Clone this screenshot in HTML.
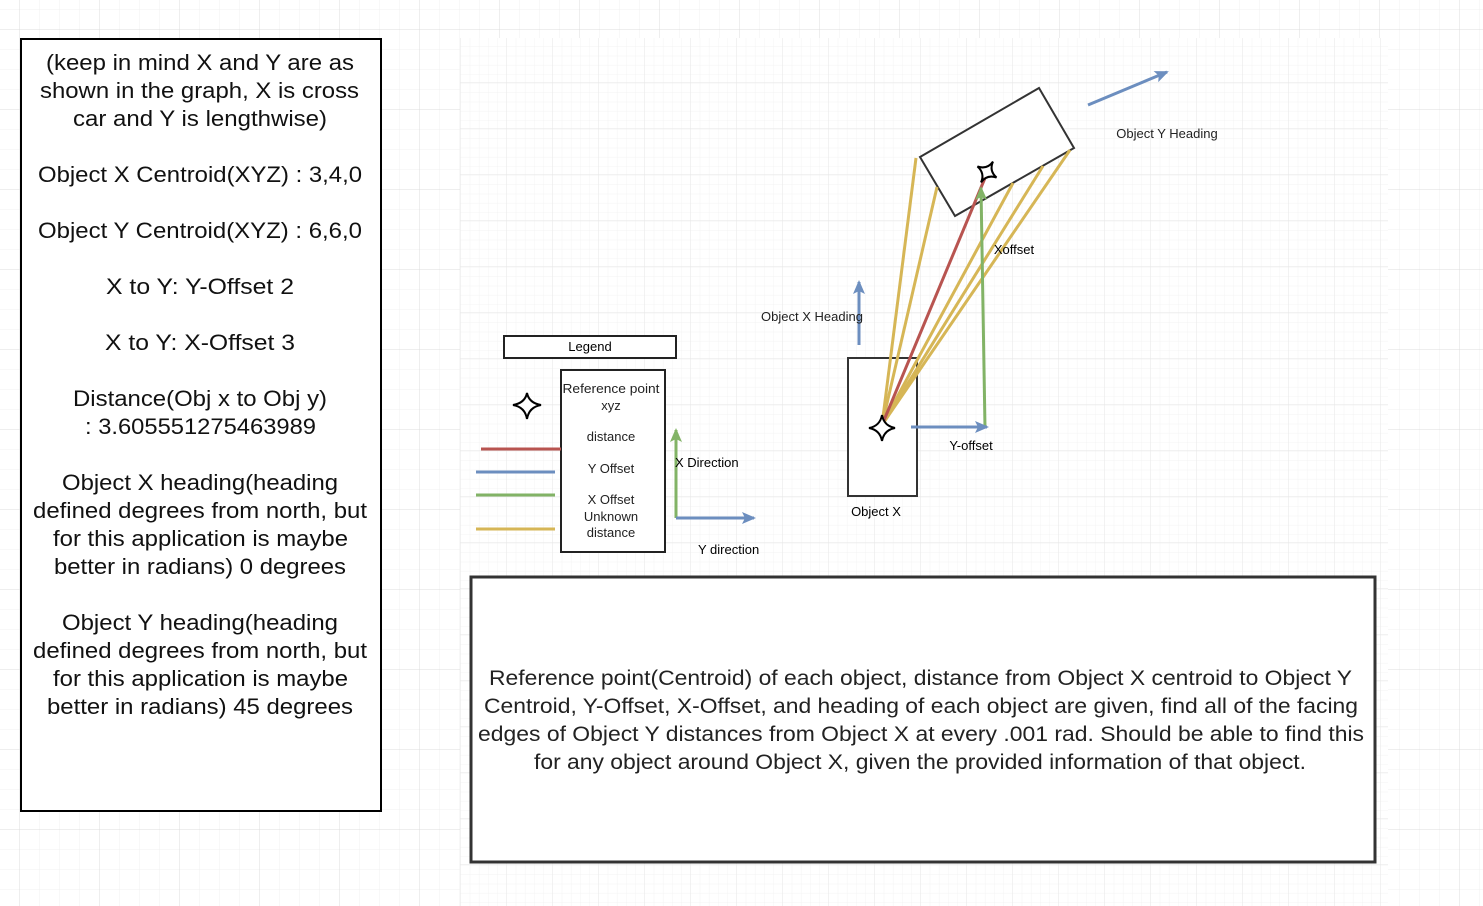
<!DOCTYPE html>
<html><head><meta charset="utf-8"><style>
html,body{margin:0;padding:0;background:#fff;}
svg{display:block;}
text{font-family:"Liberation Sans",Arial,sans-serif;}
</style></head><body>
<svg width="1483" height="906" viewBox="0 0 1483 906" xmlns="http://www.w3.org/2000/svg">
<defs>
<pattern id="og" width="20" height="20" patternUnits="userSpaceOnUse" x="0" y="10">
<path d="M20 0V20M0 20H20" stroke="#f0f0f0" stroke-width="1" fill="none"/></pattern>
<pattern id="oG" width="80" height="80" patternUnits="userSpaceOnUse" x="20" y="30">
<path d="M80 0V80M0 80H80" stroke="#dcdcdc" stroke-width="1" fill="none"/></pattern>
<pattern id="ig" width="9.2" height="9.2" patternUnits="userSpaceOnUse" x="1" y="1">
<path d="M9.2 0V9.2M0 9.2H9.2" stroke="#f3f3f3" stroke-width="1" fill="none"/></pattern>
<pattern id="iG" width="46" height="46" patternUnits="userSpaceOnUse" x="1" y="37">
<path d="M46 0V46M0 46H46" stroke="#e6e6e6" stroke-width="1" fill="none"/></pattern>
<marker id="ab2" markerWidth="14" markerHeight="12" refX="12" refY="6" orient="auto" markerUnits="userSpaceOnUse"><path d="M0,0L14,6L0,12L3,6Z" fill="#6c8ebf"/></marker>
<marker id="ag" markerWidth="14" markerHeight="12" refX="12" refY="6" orient="auto" markerUnits="userSpaceOnUse"><path d="M0,0L14,6L0,12L3,6Z" fill="#82b366"/></marker>
</defs>
<rect width="1483" height="906" fill="url(#og)"/>
<rect width="1483" height="906" fill="url(#oG)"/>
<rect x="460" y="38" width="928" height="868" fill="#fff"/>
<rect x="460" y="38" width="928" height="868" fill="url(#ig)"/>
<rect x="460" y="38" width="928" height="868" fill="url(#iG)"/>

<!-- left box -->
<rect x="21" y="39" width="360" height="772" fill="#fff" stroke="#000" stroke-width="2"/>
<g font-size="22" fill="#111" lengthAdjust="spacingAndGlyphs">
<text x="46" y="70" textLength="308" lengthAdjust="spacingAndGlyphs">(keep in mind X and Y are as</text>
<text x="40" y="98" textLength="319" lengthAdjust="spacingAndGlyphs">shown in the graph, X is cross</text>
<text x="73" y="126" textLength="254" lengthAdjust="spacingAndGlyphs">car and Y is lengthwise)</text>
<text x="38" y="182" textLength="324" lengthAdjust="spacingAndGlyphs">Object X Centroid(XYZ) : 3,4,0</text>
<text x="38" y="238" textLength="324" lengthAdjust="spacingAndGlyphs">Object Y Centroid(XYZ) : 6,6,0</text>
<text x="106" y="294" textLength="188" lengthAdjust="spacingAndGlyphs">X to Y: Y-Offset  2</text>
<text x="105" y="350" textLength="190" lengthAdjust="spacingAndGlyphs">X to Y: X-Offset  3</text>
<text x="73" y="406" textLength="254" lengthAdjust="spacingAndGlyphs">Distance(Obj x to Obj y)</text>
<text x="85" y="434" textLength="231" lengthAdjust="spacingAndGlyphs">: 3.605551275463989</text>
<text x="62" y="490" textLength="276" lengthAdjust="spacingAndGlyphs">Object X heading(heading</text>
<text x="33" y="518" textLength="334" lengthAdjust="spacingAndGlyphs">defined degrees from north, but</text>
<text x="53" y="546" textLength="295" lengthAdjust="spacingAndGlyphs">for this application is maybe</text>
<text x="54" y="574" textLength="292" lengthAdjust="spacingAndGlyphs">better in radians) 0 degrees</text>
<text x="62" y="630" textLength="276" lengthAdjust="spacingAndGlyphs">Object Y heading(heading</text>
<text x="33" y="658" textLength="334" lengthAdjust="spacingAndGlyphs">defined degrees from north, but</text>
<text x="53" y="686" textLength="295" lengthAdjust="spacingAndGlyphs">for this application is maybe</text>
<text x="47" y="714" textLength="306" lengthAdjust="spacingAndGlyphs">better in radians) 45 degrees</text>
</g>

<!-- legend -->
<rect x="504" y="336" width="172" height="22" fill="#fff" stroke="#222" stroke-width="2"/>
<text x="590" y="351" font-size="13" text-anchor="middle">Legend</text>
<rect x="561" y="370" width="104" height="182" fill="#fff" stroke="#222" stroke-width="2"/>
<g font-size="13" text-anchor="middle" fill="#222">
<text x="611" y="393" textLength="97" lengthAdjust="spacingAndGlyphs">Reference point</text>
<text x="611" y="410">xyz</text>
<text x="611" y="441">distance</text>
<text x="611" y="473">Y Offset</text>
<text x="611" y="504">X Offset</text>
<text x="611" y="521">Unknown</text>
<text x="611" y="537">distance</text>
</g>
<path d="M527,393 Q529,403 541,405 Q529,407 527,419 Q525,407 513,405 Q525,403 527,393Z" fill="#fff" stroke="#000" stroke-width="2"/>
<line x1="481" y1="449" x2="561" y2="449" stroke="#b85450" stroke-width="3"/>
<line x1="476" y1="472" x2="555" y2="472" stroke="#6c8ebf" stroke-width="3"/>
<line x1="476" y1="495" x2="555" y2="495" stroke="#82b366" stroke-width="3"/>
<line x1="476" y1="529" x2="555" y2="529" stroke="#d6b656" stroke-width="3"/>
<line x1="676" y1="518" x2="676" y2="430" stroke="#82b366" stroke-width="3" marker-end="url(#ag)"/>
<line x1="676" y1="518" x2="754" y2="518" stroke="#6c8ebf" stroke-width="3" marker-end="url(#ab2)"/>
<text x="675" y="467" font-size="13">X Direction</text>
<text x="698" y="554" font-size="13">Y direction</text>

<!-- object X -->
<rect x="848" y="358" width="69" height="138" fill="#fff" stroke="#333" stroke-width="2"/>
<text x="876" y="516" font-size="13" text-anchor="middle">Object X</text>
<line x1="859" y1="345" x2="859" y2="282" stroke="#6c8ebf" stroke-width="3" marker-end="url(#ab2)"/>
<text x="812" y="321" font-size="13" text-anchor="middle" fill="#222">Object X Heading</text>

<!-- object Y -->
<polygon points="920,157 1039,88 1074,148 955,216" fill="#fff" stroke="#333" stroke-width="2"/>
<line x1="1088" y1="105" x2="1167" y2="72" stroke="#6c8ebf" stroke-width="3" marker-end="url(#ab2)"/>
<text x="1167" y="138" font-size="13" text-anchor="middle" fill="#222">Object Y Heading</text>

<!-- lines -->
<g stroke="#d6b656" stroke-width="3">
<line x1="882" y1="425" x2="916" y2="158"/>
<line x1="882" y1="425" x2="937" y2="187"/>
<line x1="882" y1="425" x2="1013" y2="183"/>
<line x1="882" y1="425" x2="1043" y2="166"/>
<line x1="882" y1="425" x2="1070" y2="150"/>
</g>
<line x1="882" y1="425" x2="985" y2="178" stroke="#b85450" stroke-width="3"/>
<line x1="985" y1="428" x2="981" y2="188" stroke="#82b366" stroke-width="3" marker-end="url(#ag)"/>
<line x1="911" y1="427" x2="987" y2="427" stroke="#6c8ebf" stroke-width="3" marker-end="url(#ab2)"/>
<text x="1014" y="254" font-size="13" text-anchor="middle">Xoffset</text>
<text x="971" y="450" font-size="13" text-anchor="middle">Y-offset</text>
<path d="M882,415 Q884,426 895,428 Q884,430 882,441 Q880,430 869,428 Q880,426 882,415Z" fill="#fff" stroke="#000" stroke-width="2"/>
<path d="M987,160 Q988,170 998,172 Q988,174 987,184 Q986,174 976,172 Q986,170 987,160Z" fill="none" stroke="#000" stroke-width="2" transform="rotate(30 987 172)"/>

<!-- bottom box -->
<rect x="471" y="577" width="904" height="285" fill="#fff" stroke="#333" stroke-width="3"/>
<g font-size="21" fill="#222">
<text x="489" y="685" textLength="863" lengthAdjust="spacingAndGlyphs">Reference point(Centroid) of each object, distance from Object X centroid to Object Y</text>
<text x="484" y="713" textLength="874" lengthAdjust="spacingAndGlyphs">Centroid, Y-Offset, X-Offset, and heading of each object are given, find all of the facing</text>
<text x="478" y="741" textLength="886" lengthAdjust="spacingAndGlyphs">edges of Object Y distances from Object X at every .001 rad. Should be able to find this</text>
<text x="534" y="769" textLength="772" lengthAdjust="spacingAndGlyphs">for any object around Object X, given the provided information of that object.</text>
</g>
</svg>
</body></html>
